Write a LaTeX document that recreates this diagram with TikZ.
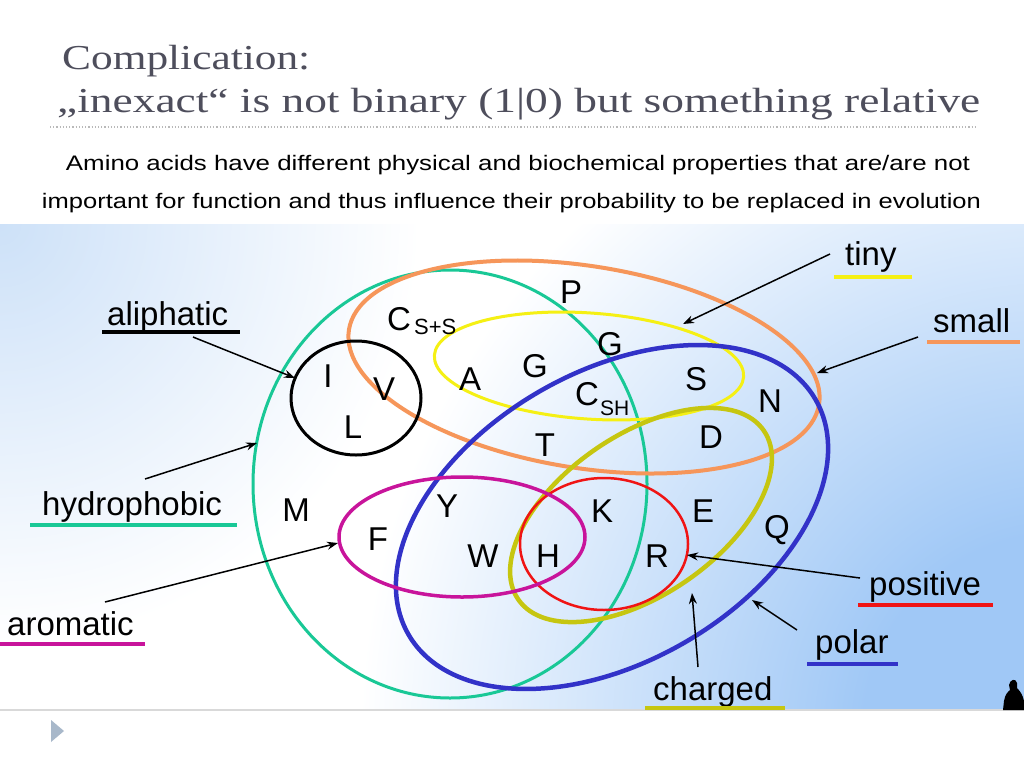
\documentclass[tikz,border=0pt]{standalone}
\usepackage{fontspec}
\usepackage{graphicx}
\newfontfamily\arialf{Liberation Sans}
\newfontfamily\timesf{Liberation Serif}
\usetikzlibrary{arrows.meta}
\definecolor{cGreen}{RGB}{25,200,150}
\definecolor{cOrange}{RGB}{246,150,90}
\definecolor{cYellow}{RGB}{245,240,20}
\definecolor{cBlue}{RGB}{50,50,200}
\definecolor{cOlive}{RGB}{198,198,16}
\definecolor{cRed}{RGB}{240,20,20}
\definecolor{cMag}{RGB}{200,20,155}
\definecolor{cTitle}{RGB}{78,78,92}
\definecolor{bgTL}{RGB}{205,225,248}
\definecolor{bgBR}{RGB}{160,200,246}
\definecolor{cTri}{RGB}{168,184,202}
\pgfdeclareradialshading{glowBR}{\pgfpoint{0bp}{0bp}}{color(0bp)=(bgBR); color(7bp)=(bgBR); color(25bp)=(white); color(50bp)=(white)}
\pgfdeclareradialshading{glowTL}{\pgfpoint{0bp}{0bp}}{color(0bp)=(bgTL); color(25bp)=(white); color(50bp)=(white)}
\newcommand{\fitw}[2]{\resizebox{#1}{\height}{#2}}
\begin{document}
\begin{tikzpicture}[x=1pt,y=-1pt,
  aa/.style={font=\arialf\fontsize{33}{33}\selectfont, inner sep=0pt, anchor=base},
  sub/.style={font=\arialf\fontsize{21}{21}\selectfont, inner sep=0pt, anchor=base west},
  lbl/.style={font=\arialf\fontsize{33}{33}\selectfont, inner sep=0pt, anchor=base west},
  arr/.style={line width=1.5pt, -{Stealth[length=11pt,width=8pt]}},
  uline/.style={line width=3.5pt},
  ]
\useasboundingbox (0,0) rectangle (1024,768);
\fill[white] (0,0) rectangle (1024,768);
% title
\node[inner sep=0pt, anchor=base west, text=cTitle, font=\timesf\fontsize{35}{35}\selectfont] (t1) at (62,69) {\fitw{248pt}{Complication:}};
\node[inner sep=0pt, anchor=base west, text=cTitle, font=\timesf\fontsize{35}{35}\selectfont] (t2) at (57,112) {\fitw{923pt}{„inexact“ is not binary (1|0) but something relative}};
\draw[gray!55, line width=1.2pt, dash pattern=on 1.2pt off 2pt] (50,127) -- (975,127);
% subtitle
\node[inner sep=0pt, anchor=base, font=\arialf\fontsize{21}{21}\selectfont] (s1) at (518,170) {\fitw{904pt}{Amino acids have different physical and biochemical properties that are/are not}};
\node[inner sep=0pt, anchor=base, font=\arialf\fontsize{21}{21}\selectfont] (s2) at (511.5,208) {\fitw{939pt}{important for function and thus influence their probability to be replaced in evolution}};
% background
\begin{scope}
\clip (0,224) rectangle (1024,710);
\shade[shading=glowTL] (0,224) circle (420pt);
\shade[shading=glowBR] (1060,730) circle (700pt);
\end{scope}
\draw[gray!30, line width=2pt] (0,710) -- (1024,710);
\fill[cTri] (51,720) -- (64,731) -- (51,742) -- cycle;
\fill[black] (1003,710) -- (1004,701) .. controls (1005,694) and (1008,692) .. (1010,690) -- (1009,685) .. controls (1010,679) and (1016,678) .. (1017,683) -- (1017,688) .. controls (1021,692) and (1023,696) .. (1024,701) -- (1024,710) -- cycle;
% sets
\draw[cGreen, line width=3pt] (450,484) ellipse[x radius=197pt, y radius=214pt];
\draw[cOrange, line width=4pt, rotate around={-9:(584,367)}] (584,367) ellipse[x radius=238pt, y radius=101pt];
\draw[cYellow, line width=3pt, rotate around={-4:(589,366)}] (589,366) ellipse[x radius=155pt, y radius=53pt];
\draw[cBlue, line width=4.5pt, rotate around={30:(612,517)}] (612,517) ellipse[x radius=235pt, y radius=145pt];
\draw[cOlive, line width=4.5pt, rotate around={34.5:(641,515)}] (641,515) ellipse[x radius=149pt, y radius=80pt];
\draw[cRed, line width=2.5pt] (604,544) ellipse[x radius=84pt, y radius=66pt];
\draw[cMag, line width=3.5pt] (462,537) ellipse[x radius=123pt, y radius=60pt];
\draw[black, line width=3pt] (356,398) ellipse[x radius=65pt, y radius=57pt];
% amino acids
\node[aa] (P) at (571,303) {P};
\node[aa] (Css) at (399,330) {C};
\node[sub, font=\arialf\fontsize{22}{22}\selectfont] (Csssub) at (414,334) {S+S};
\node[aa] (G1) at (610,355) {G};
\node[aa] (G2) at (535,377) {G};
\node[aa] (A) at (470,390) {A};
\node[aa] (Csh) at (587,405) {C};
\node[sub] (Cshsub) at (600,415) {SH};
\node[aa] (S) at (696,390) {S};
\node[aa] (N) at (770,412) {N};
\node[aa] (T) at (545,456) {T};
\node[aa] (D) at (711,448) {D};
\node[aa] (I) at (328,387) {I};
\node[aa] (V) at (384,400) {V};
\node[aa] (L) at (353,438) {L};
\node[aa] (M) at (296,521) {M};
\node[aa] (Y) at (447,517) {Y};
\node[aa] (F) at (378,550) {F};
\node[aa] (W) at (483,567) {W};
\node[aa] (H) at (548,567) {H};
\node[aa] (K) at (602,522) {K};
\node[aa] (E) at (703,522) {E};
\node[aa] (R) at (657,567) {R};
\node[aa] (Q) at (777,538) {Q};
% labels
\node[lbl] (ali) at (107,325) {aliphatic};
\node[lbl] (hyd) at (42,515) {hydrophobic};
\node[lbl] (aro) at (7,635) {aromatic};
\node[lbl] (tiny) at (845,265) {tiny};
\node[lbl] (small) at (933,332) {small};
\node[lbl] (pos) at (869,595) {positive};
\node[lbl] (pol) at (815,653) {polar};
\node[lbl] (chg) at (653,700) {charged};
\draw[uline, black] (102,332) -- (240,332);
\draw[uline, cGreen] (30,525) -- (237,525);
\draw[uline, cMag] (0,644) -- (145,644);
\draw[uline, cYellow] (834,277) -- (912,277);
\draw[uline, cOrange] (927,342) -- (1020,342);
\draw[uline, cRed] (858,605) -- (993,605);
\draw[uline, cBlue] (807,664) -- (898,664);
\draw[uline, cOlive] (645,708) -- (785,708);
% arrows
\coordinate (aliA) at (193,337);  \coordinate (aliB) at (295,378);
\coordinate (hydA) at (145,479);  \coordinate (hydB) at (257,443);
\coordinate (aroA) at (105,602);  \coordinate (aroB) at (338,543);
\coordinate (tinyA) at (830,254); \coordinate (tinyB) at (683,324);
\coordinate (smallA) at (918,337); \coordinate (smallB) at (817,373);
\coordinate (posA) at (860,578);  \coordinate (posB) at (687,555);
\coordinate (polA) at (797,630);  \coordinate (polB) at (752,600);
\coordinate (chgA) at (698,667);  \coordinate (chgB) at (692,593);
\draw[arr] (aliA) -- (aliB);
\draw[arr] (hydA) -- (hydB);
\draw[arr] (aroA) -- (aroB);
\draw[arr] (tinyA) -- (tinyB);
\draw[arr] (smallA) -- (smallB);
\draw[arr] (posA) -- (posB);
\draw[arr] (polA) -- (polB);
\draw[arr] (chgA) -- (chgB);
\end{tikzpicture}
\end{document}
